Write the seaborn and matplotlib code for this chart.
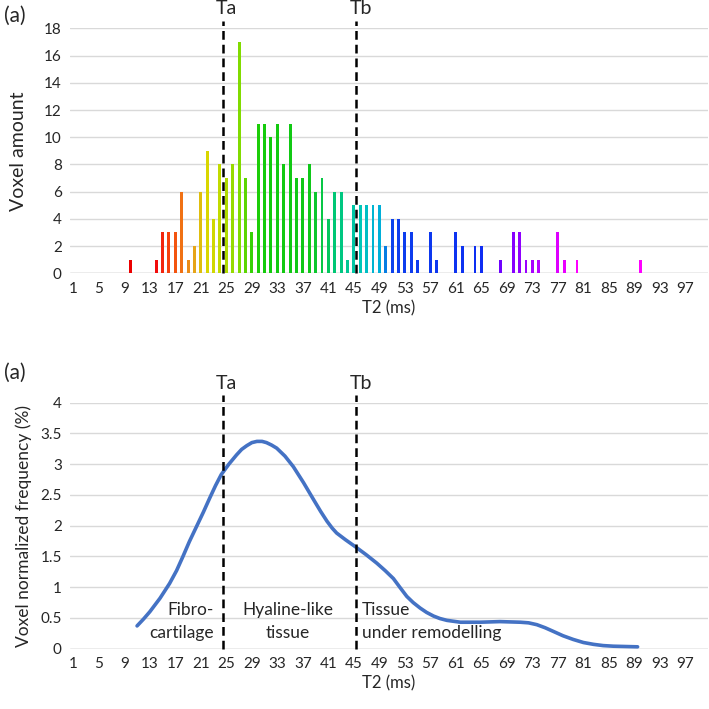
import matplotlib
matplotlib.use("Agg")
import matplotlib.pyplot as plt
import seaborn as sns
import numpy as np
import pandas as pd
from matplotlib.colors import LinearSegmentedColormap

# ---------------- data ----------------
t2_labels = [str(i) for i in range(1, 101)]
voxel_counts = [0, 0, 0, 0, 0, 0, 0, 0, 0, 1,      # 1-10
                0, 0, 0, 1, 3, 3, 3, 6, 1, 2,      # 11-20
                6, 9, 4, 8, 7, 8, 17, 7, 3, 11,    # 21-30
                11, 10, 11, 8, 11, 7, 7, 8, 6, 7,  # 31-40
                4, 6, 6, 1, 5, 5, 5, 5, 5, 2,      # 41-50
                4, 4, 3, 3, 1, 0, 3, 1, 0, 0,      # 51-60
                3, 2, 0, 2, 2, 0, 0, 1, 0, 3,      # 61-70
                3, 1, 1, 1, 0, 0, 3, 1, 0, 1,      # 71-80
                0, 0, 0, 0, 0, 0, 0, 0, 0, 1,      # 81-90
                0, 0, 0, 0, 0, 0, 0, 0, 0, 0]      # 91-100

curve_t2 = [11, 12, 13, 14.6, 16.1, 17.2, 18.2, 19.2, 20.3, 21.4, 22.4, 23.3, 24.2,
            25.4, 26.6, 27.4, 28.2, 29.0, 29.8, 30.6, 31.3, 32.1, 32.9, 34.2, 35.5,
            37.1, 38.7, 39.8, 40.8, 41.6, 42.3, 43.7, 45.2, 46.9, 48.6, 49.9, 51.2,
            52.2, 53.3, 54.3, 55.4, 56.4, 57.5, 58.5, 59.6, 61.7, 64.8, 67.9, 71.1,
            72.4, 73.7, 75.0, 76.3, 77.8, 79.4, 81.0, 82.6, 84.1, 85.7, 89.5]
curve_freq = [0.37, 0.48, 0.60, 0.82, 1.06, 1.27, 1.50, 1.74, 1.98, 2.22, 2.45, 2.65, 2.83,
              3.00, 3.15, 3.24, 3.30, 3.35, 3.37, 3.37, 3.35, 3.31, 3.26, 3.13, 2.96,
              2.70, 2.42, 2.23, 2.07, 1.96, 1.88, 1.77, 1.66, 1.53, 1.39, 1.27, 1.14,
              1.00, 0.85, 0.75, 0.66, 0.59, 0.53, 0.49, 0.46, 0.43, 0.43, 0.44, 0.43,
              0.42, 0.39, 0.34, 0.28, 0.21, 0.15, 0.10, 0.07, 0.05, 0.04, 0.03]

ta_t2 = 24.4
tb_t2 = 45.4
tick_labels = [str(i) for i in range(1, 98, 4)]

# ---------------- style ----------------
sns.set_theme(style="white")
plt.rcParams["font.family"] = ["Lato", "DejaVu Sans"]
GRID = "#d9d9d9"
TXT = "#262626"

# rainbow colouring of bars by T2 category
anchors = [(10, (0.92, 0.00, 0.00)), (14, (0.95, 0.05, 0.05)), (16, (0.96, 0.25, 0.05)),
           (18, (0.94, 0.47, 0.08)), (20, (0.90, 0.66, 0.10)), (22, (0.85, 0.84, 0.00)),
           (24, (0.75, 0.86, 0.00)), (27, (0.50, 0.86, 0.00)), (30, (0.08, 0.80, 0.04)),
           (38, (0.06, 0.78, 0.10)), (42, (0.00, 0.78, 0.45)), (46, (0.00, 0.78, 0.72)),
           (49, (0.00, 0.68, 0.86)), (51, (0.05, 0.25, 0.93)), (65, (0.05, 0.18, 0.95)),
           (68, (0.45, 0.00, 1.00)), (72, (0.60, 0.00, 1.00)), (77, (0.87, 0.00, 1.00)),
           (80, (1.00, 0.00, 1.00)), (100, (1.00, 0.00, 1.00))]
lo, hi = anchors[0][0], anchors[-1][0]
cmap = LinearSegmentedColormap.from_list(
    "rb", [((c - lo) / (hi - lo), col) for c, col in anchors])
palette = {lab: cmap(min(max((int(lab) - lo) / (hi - lo), 0), 1)) for lab in t2_labels}

df = pd.DataFrame({"t2": t2_labels, "count": voxel_counts})

fig = plt.figure(figsize=(7.09, 7.09), dpi=100)
ax1 = fig.add_axes([0.0989, 0.6145, 0.8993, 0.3455])
ax2 = fig.add_axes([0.0989, 0.0851, 0.8993, 0.3470])

# ---------- top: bar chart ----------
sns.barplot(data=df, x="t2", y="count", hue="t2", palette=palette, legend=False,
            order=t2_labels, width=0.46, saturation=1, ax=ax1, zorder=3,
            edgecolor="none", linewidth=0)
ax1.set_ylim(0, 18)
ax1.set_yticks(range(0, 19, 2))
ax1.set_ylabel("Voxel amount", fontsize=14, color=TXT, labelpad=12)

# ---------- bottom: smoothed frequency curve ----------
cdf = pd.DataFrame({"pos": [v - 1 for v in curve_t2], "freq": curve_freq})
sns.lineplot(data=cdf, x="pos", y="freq", color="#4472C4", linewidth=2.6, ax=ax2, zorder=3)
ax2.set_ylim(0, 4)
ax2.set_yticks(np.arange(0, 4.01, 0.5))
ax2.set_yticklabels(["0", "0.5", "1", "1.5", "2", "2.5", "3", "3.5", "4"])
ax2.set_ylabel("Voxel normalized frequency (%)", fontsize=12.5, color=TXT, labelpad=6)

for ax, ymax in ((ax1, 18), (ax2, 4)):
    ax.set_xlim(-0.5, 99.5)
    ax.set_xticks([int(t) - 1 for t in tick_labels])
    ax.set_xticklabels(tick_labels)
    ax.set_xlabel("T2 (ms)", fontsize=12, color=TXT, labelpad=3)
    ax.grid(axis="y", color=GRID, linewidth=1, zorder=0)
    ax.set_axisbelow(True)
    for s in ax.spines.values():
        s.set_visible(False)
    ax.tick_params(axis="both", length=0, labelsize=11, colors=TXT, pad=6)
    ax.axhline(0, color="#bfbfbf", linewidth=1, zorder=2)
    for tv, lab in ((ta_t2, "Ta"), (tb_t2, "Tb")):
        ax.plot([tv - 1, tv - 1], [0, ymax * 1.03], color="black", linestyle=(0, (3.5, 2)),
                linewidth=1.8, clip_on=False, zorder=4)
        ax.annotate(lab, xy=(tv - 1, ymax), xycoords="data", xytext=(-5, 8),
                    textcoords="offset points", ha="left", va="bottom",
                    fontsize=14, color=TXT, annotation_clip=False)

fig.text(0.005, 0.978, "(a)", fontsize=15, color=TXT, va="center", ha="left")
fig.text(0.005, 0.474, "(a)", fontsize=15, color=TXT, va="center", ha="left")

# region annotations
ax2.text(ta_t2 - 1 - 1.3, 0.63, "Fibro-", ha="right", va="center", fontsize=12.5, color=TXT)
ax2.text(ta_t2 - 1 - 1.3, 0.25, "cartilage", ha="right", va="center", fontsize=12.5, color=TXT)
ax2.text(33.7, 0.63, "Hyaline-like", ha="center", va="center", fontsize=12.5, color=TXT)
ax2.text(33.7, 0.25, "tissue", ha="center", va="center", fontsize=12.5, color=TXT)
ax2.text(tb_t2 - 1 + 0.9, 0.63, "Tissue", ha="left", va="center", fontsize=12.5, color=TXT)
ax2.text(tb_t2 - 1 + 0.9, 0.25, "under remodelling", ha="left", va="center", fontsize=12.5, color=TXT)

fig.savefig("out.png", dpi=100)
